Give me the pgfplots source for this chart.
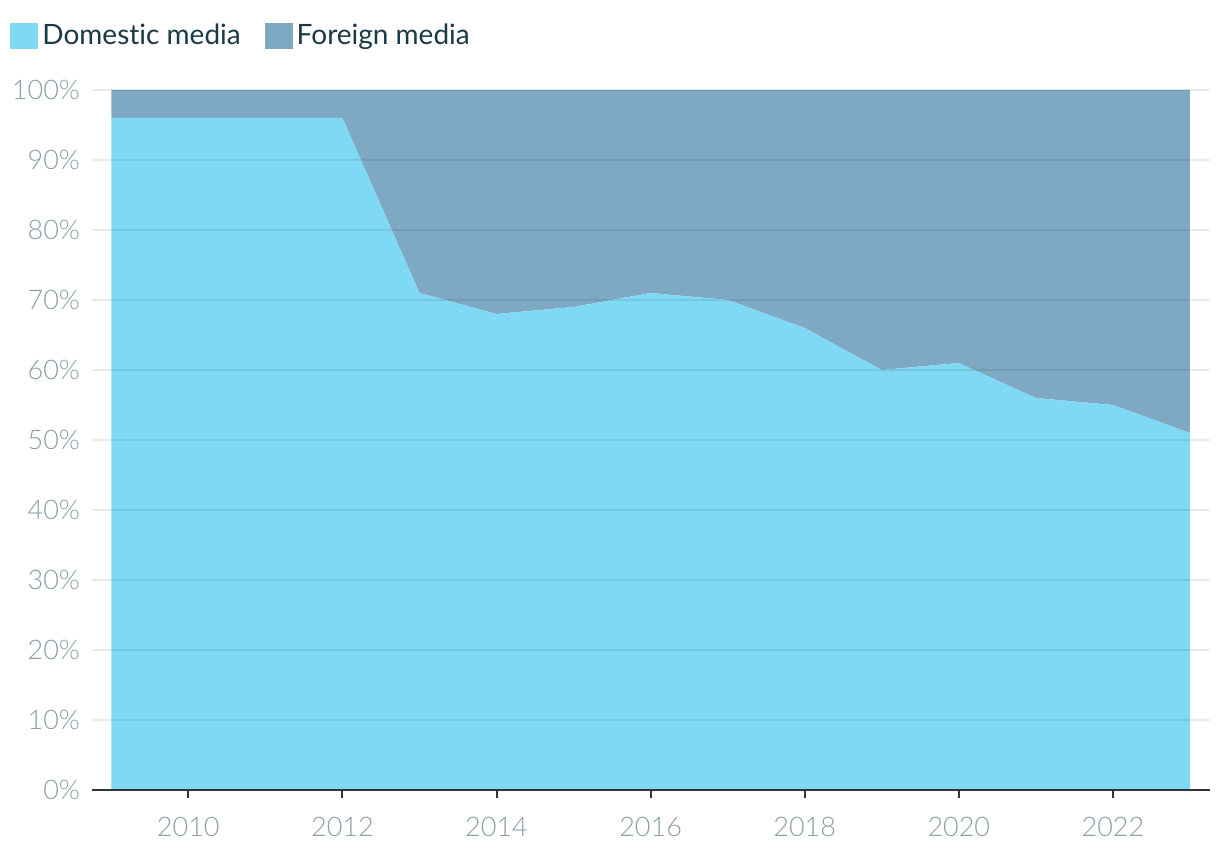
\documentclass[border=0pt]{standalone}
\usepackage{fontspec}
\setmainfont{Lato}[Ligatures=NoCommon]
\newfontfamily\light{Lato Light}
\usepackage{pgfplots}
\pgfplotsset{compat=1.18}
\definecolor{dom}{HTML}{7FD9F4}
\definecolor{forc}{HTML}{7FA8C3}
\definecolor{tickc}{HTML}{8A9EA6}
\definecolor{legc}{HTML}{1A3A45}
\definecolor{axc}{HTML}{333333}
\begin{document}
\begin{tikzpicture}
\useasboundingbox (-46bp,-34bp) rectangle (564bp,395bp);
\begin{axis}[
  at={(0,0)}, anchor=south west,
  scale only axis, width=559bp, height=350bp,
  xmin=2008.75, xmax=2023.26, ymin=0, ymax=100,
  stack plots=y,
  axis on top,
  axis x line=bottom, axis y line=left,
  x axis line style={-, draw=axc, line width=1bp},
  y axis line style={draw=none},
  xtick={2010,2012,...,2022},
  ytick={0,10,...,100},
  xtick style={draw=axc, line width=1bp},
  ytick style={draw=none},
  tick align=outside,
  major tick length=4bp,
  ymajorgrids,
  grid style={black, opacity=0.08, line width=0.75bp},
  /pgf/number format/assume math mode=true,
  /pgf/number format/1000 sep={},
  xticklabel style={font=\light\fontsize{13.5bp}{16bp}\selectfont, text=tickc, yshift=-6bp},
  yticklabel style={font=\light\fontsize{13.5bp}{16bp}\selectfont, text=tickc, xshift=1.5bp},
  yticklabel={\pgfmathprintnumber{\tick}\%},
  legend columns=2,
  legend style={at={(axis description cs:-0.0733,1.077)}, anchor=west, draw=none, fill=none,
    font=\fontsize{14bp}{16bp}\selectfont, text=legc, inner sep=0pt,
    /tikz/every even column/.append style={column sep=10bp}},
  legend image code/.code={\fill[#1] (0bp,-6.5bp) rectangle (14bp,6.5bp);},
]
\addplot[fill=dom, draw=none] coordinates {
(2009,96) (2010,96) (2011,96) (2012,96) (2013,71) (2014,68) (2015,69) (2016,71)
(2017,70) (2018,66) (2019,60) (2020,61) (2021,56) (2022,55) (2023,51)} \closedcycle;
\addlegendentry{Domestic media}
\addplot[fill=forc, draw=none] coordinates {
(2009,4) (2010,4) (2011,4) (2012,4) (2013,29) (2014,32) (2015,31) (2016,29)
(2017,30) (2018,34) (2019,40) (2020,39) (2021,44) (2022,45) (2023,49)} \closedcycle;
\addlegendentry{Foreign media}
\end{axis}
\end{tikzpicture}
\end{document}
